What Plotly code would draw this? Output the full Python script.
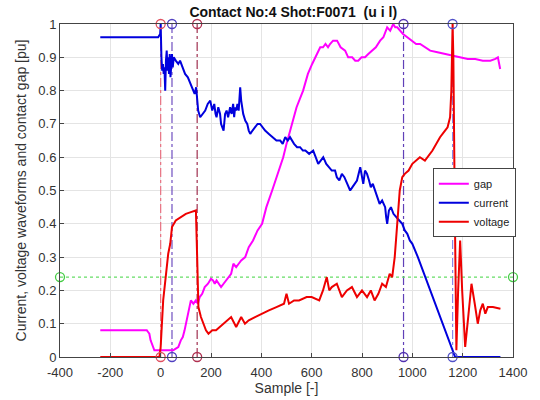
import plotly.graph_objects as go

# ---- data ----
current_x = [-240, -10, -2, 0, 3, 6, 9, 12, 15, 18, 21, 24, 27, 30, 33, 36, 39, 42, 45, 48, 52, 60, 70, 77, 87, 97, 108, 118, 129, 135, 141, 145, 149, 157, 167, 177, 187, 197, 205, 213, 218, 222, 229, 236, 240, 246, 250, 256, 262, 268, 272, 276, 282, 288, 292, 296, 300, 305, 310, 316, 320, 324, 328, 336, 344, 350, 356, 365, 375, 385, 395, 405, 415, 430, 443, 460, 475, 485, 495, 505, 514, 522, 530, 542, 554, 565, 575, 590, 606, 616, 626, 636, 646, 658, 670, 680, 693, 700, 710, 720, 730, 742, 753, 762, 770, 780, 793, 800, 805, 812, 820, 828, 835, 843, 852, 860, 870, 880, 892, 896, 900, 907, 915, 925, 935, 948, 960, 970, 980, 990, 1000, 1022, 1170, 1350]
current_y = [0.96, 0.96, 0.97, 1.0, 0.90, 0.86, 0.88, 0.85, 0.87, 0.80, 0.89, 0.92, 0.86, 0.90, 0.85, 0.91, 0.84, 0.90, 0.91, 0.87, 0.90, 0.89, 0.88, 0.89, 0.87, 0.85, 0.84, 0.82, 0.80, 0.79, 0.81, 0.78, 0.74, 0.72, 0.73, 0.74, 0.76, 0.77, 0.74, 0.76, 0.73, 0.72, 0.75, 0.73, 0.70, 0.69, 0.68, 0.73, 0.74, 0.72, 0.74, 0.75, 0.73, 0.76, 0.72, 0.75, 0.74, 0.76, 0.74, 0.81, 0.77, 0.75, 0.73, 0.71, 0.70, 0.68, 0.67, 0.68, 0.69, 0.70, 0.70, 0.69, 0.68, 0.67, 0.66, 0.65, 0.65, 0.64, 0.66, 0.65, 0.66, 0.65, 0.64, 0.63, 0.63, 0.62, 0.62, 0.61, 0.62, 0.60, 0.58, 0.59, 0.60, 0.58, 0.57, 0.56, 0.56, 0.54, 0.53, 0.55, 0.54, 0.52, 0.50, 0.51, 0.52, 0.53, 0.57, 0.54, 0.52, 0.56, 0.55, 0.53, 0.51, 0.52, 0.50, 0.48, 0.46, 0.47, 0.45, 0.42, 0.40, 0.44, 0.45, 0.43, 0.42, 0.41, 0.40, 0.38, 0.37, 0.35, 0.34, 0.30, 0.0, 0.0]

gap_x = [-240, -55, -50, -45, -40, -35, -30, -25, -15, 0, 20, 50, 60, 70, 80, 88, 95, 100, 106, 112, 120, 130, 140, 148, 155, 165, 175, 188, 200, 208, 215, 222, 230, 240, 250, 260, 270, 280, 289, 300, 310, 320, 336, 350, 367, 385, 403, 420, 443, 465, 487, 500, 514, 540, 566, 585, 602, 620, 634, 645, 655, 665, 673, 685, 701, 715, 733, 745, 761, 773, 785, 798, 812, 825, 840, 855, 872, 885, 900, 912, 924, 932, 940, 951, 963, 980, 999, 1015, 1031, 1050, 1071, 1100, 1130, 1160, 1190, 1220, 1250, 1280, 1310, 1330, 1340, 1349]
gap_y = [0.08, 0.08, 0.075, 0.07, 0.05, 0.04, 0.03, 0.02, 0.02, 0.02, 0.02, 0.02, 0.025, 0.03, 0.05, 0.06, 0.08, 0.10, 0.12, 0.14, 0.17, 0.16, 0.17, 0.16, 0.18, 0.19, 0.21, 0.22, 0.235, 0.23, 0.22, 0.23, 0.22, 0.21, 0.22, 0.23, 0.24, 0.25, 0.28, 0.27, 0.28, 0.29, 0.30, 0.33, 0.35, 0.38, 0.40, 0.45, 0.50, 0.55, 0.60, 0.64, 0.68, 0.75, 0.80, 0.85, 0.88, 0.91, 0.93, 0.93, 0.94, 0.93, 0.94, 0.95, 0.95, 0.93, 0.92, 0.90, 0.90, 0.89, 0.89, 0.90, 0.90, 0.91, 0.92, 0.93, 0.95, 0.96, 0.99, 0.98, 1.0, 0.99, 0.99, 0.98, 0.97, 0.96, 0.95, 0.94, 0.94, 0.93, 0.92, 0.915, 0.91, 0.905, 0.90, 0.895, 0.895, 0.89, 0.89, 0.895, 0.90, 0.865]

voltage_x = [-240, -5, 0, 5, 10, 20, 30, 38, 45, 60, 80, 100, 120, 140, 145, 150, 160, 170, 180, 190, 205, 220, 235, 250, 265, 280, 300, 320, 335, 350, 375, 400, 430, 460, 490, 500, 510, 530, 550, 580, 600, 630, 645, 660, 670, 680, 700, 720, 740, 760, 780, 800, 820, 835, 850, 865, 880, 895, 910, 920, 930, 940, 950, 960, 970, 985, 1000, 1030, 1050, 1080, 1110, 1130, 1140, 1150, 1155, 1160, 1163, 1168, 1175, 1182, 1190, 1198, 1210, 1222, 1235, 1248, 1260, 1270, 1280, 1290, 1300, 1320, 1350]
voltage_y = [0.0, 0.0, 0.03, 0.12, 0.17, 0.24, 0.31, 0.34, 0.39, 0.41, 0.42, 0.43, 0.435, 0.44, 0.30, 0.15, 0.12, 0.10, 0.08, 0.07, 0.08, 0.08, 0.09, 0.10, 0.11, 0.12, 0.09, 0.12, 0.10, 0.11, 0.12, 0.13, 0.14, 0.15, 0.16, 0.19, 0.16, 0.17, 0.17, 0.18, 0.18, 0.17, 0.20, 0.24, 0.20, 0.21, 0.22, 0.18, 0.20, 0.21, 0.18, 0.20, 0.18, 0.20, 0.17, 0.19, 0.22, 0.21, 0.25, 0.24, 0.30, 0.40, 0.50, 0.54, 0.55, 0.56, 0.58, 0.60, 0.59, 0.62, 0.66, 0.68, 0.69, 0.72, 0.80, 1.0, 0.90, 0.50, 0.02, 0.20, 0.35, 0.20, 0.03, 0.12, 0.22, 0.16, 0.10, 0.14, 0.16, 0.13, 0.15, 0.15, 0.145]

event_x = [0, 45, 145, 965, 1160]
event_line_colors = ["#e87080", "#7050c0", "#a03050", "#6040b8", "#8888e8"]
event_marker_colors = ["#e05060", "#5040c0", "#b03050", "#5030b0", "#5050c8"]

threshold_y = 0.24
x_ticks = [-400, -200, 0, 200, 400, 600, 800, 1000, 1200, 1400]
y_ticks = [0, 0.1, 0.2, 0.3, 0.4, 0.5, 0.6, 0.7, 0.8, 0.9, 1]

fig = go.Figure()

# event lines
for ex, lc, mc in zip(event_x, event_line_colors, event_marker_colors):
    fig.add_trace(go.Scatter(x=[ex, ex], y=[0, 1], mode="lines",
                             line=dict(color=lc, width=1.2, dash="dashdot"),
                             showlegend=False, hoverinfo="skip"))

# threshold line
fig.add_trace(go.Scatter(x=[-400, 1400], y=[threshold_y, threshold_y], mode="lines+markers",
                         line=dict(color="#66dd66", width=1.2, dash="dot"),
                         marker=dict(symbol="circle-open", size=9, color="#44cc44", line=dict(width=1.3)),
                         showlegend=False, cliponaxis=False))

fig.add_trace(go.Scatter(x=gap_x, y=gap_y, mode="lines", name="gap",
                         line=dict(color="#ff00ff", width=2)))
fig.add_trace(go.Scatter(x=current_x, y=current_y, mode="lines", name="current",
                         line=dict(color="#0000dd", width=2)))
fig.add_trace(go.Scatter(x=voltage_x, y=voltage_y, mode="lines", name="voltage",
                         line=dict(color="#ee0000", width=2)))

# event markers top & bottom
for ex, mc in zip(event_x, event_marker_colors):
    fig.add_trace(go.Scatter(x=[ex, ex], y=[0, 1], mode="markers",
                             marker=dict(symbol="circle-open", size=9, color=mc, line=dict(width=1.3)),
                             showlegend=False, cliponaxis=False))

fig.update_layout(
    width=540, height=400,
    margin=dict(l=60, r=27, t=24, b=43),
    paper_bgcolor="white", plot_bgcolor="white",
    font=dict(family="Liberation Sans, Arial", size=13, color="#333333"),
    title=dict(text="<b>Contact No:4 Shot:F0071  (u i l)</b>", x=0.543, xanchor="center",
               y=0.97, yanchor="middle", font=dict(size=14, color="#111111")),
    legend=dict(x=0.823, y=0.567, xanchor="left", yanchor="top",
                bgcolor="white", bordercolor="#444444", borderwidth=1,
                font=dict(size=11, color="#222222"), tracegroupgap=0),
    showlegend=True,
)
fig.update_xaxes(range=[-400, 1400], tickvals=x_ticks, ticktext=[str(v) for v in x_ticks],
                 showgrid=True, gridcolor="#e4e4e4", zeroline=False, automargin=False,
                 showline=True, linecolor="#444444", mirror=True, ticks="inside", ticklen=4,
                 tickcolor="#444444", tickfont=dict(size=13), ticklabelstandoff=3,
                 title=dict(text="Sample [-]", standoff=2, font=dict(size=14)))
fig.update_yaxes(range=[0, 1], tickvals=y_ticks, ticktext=[("%g" % v) for v in y_ticks],
                 showgrid=True, gridcolor="#e4e4e4", zeroline=False, automargin=False,
                 showline=True, linecolor="#444444", mirror=True, ticks="inside", ticklen=4,
                 tickcolor="#444444", tickfont=dict(size=13),
                 title=dict(text="Current, voltage waveforms and contact gap [pu]", standoff=8,
                            font=dict(size=14)))

fig.write_html("out.html")
